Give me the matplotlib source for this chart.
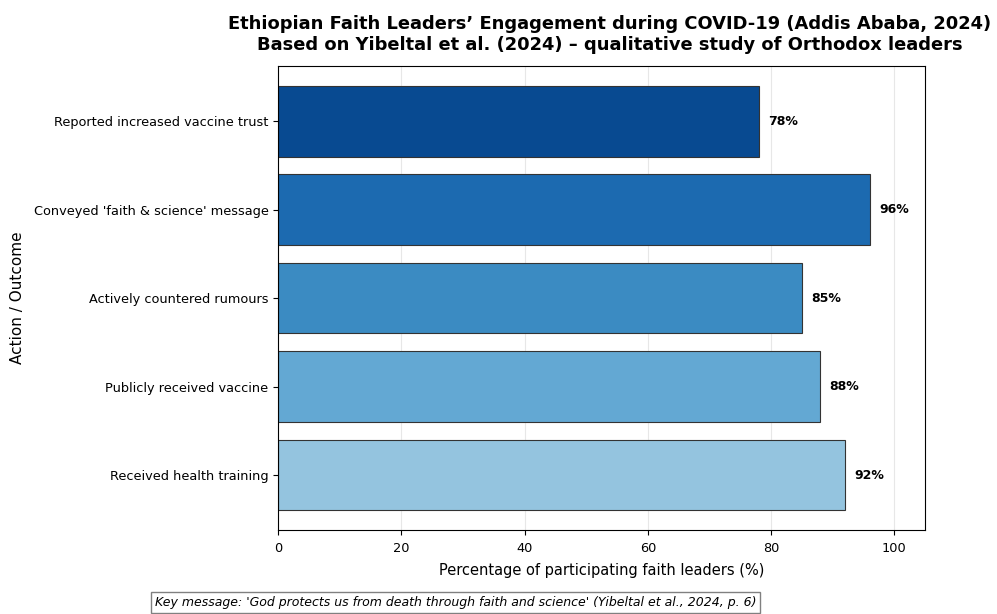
import numpy as np
import matplotlib.pyplot as plt

# Actions / outcomes reported by the faith leaders
actions = [
    "Received health training",
    "Publicly received vaccine",
    "Actively countered rumours",
    "Conveyed 'faith & science' message",
    "Reported increased vaccine trust",
]
percent = [92, 88, 85, 96, 78]

colors = plt.cm.Blues(np.linspace(0.4, 0.9, len(actions)))

fig, ax = plt.subplots(figsize=(9.97, 6.14), dpi=100)
fig.subplots_adjust(left=0.279, right=0.928, top=0.892, bottom=0.137)

y = np.arange(len(actions))
bars = ax.barh(y, percent, height=0.8, color=colors, edgecolor="#333333", linewidth=0.8)

for b, v in zip(bars, percent):
    ax.text(b.get_width() + 1.5, b.get_y() + b.get_height() / 2, f"{v}%",
            va="center", ha="left", fontsize=9, fontweight="bold")

ax.set_yticks(y)
ax.set_yticklabels(actions, fontsize=9.3)
ax.tick_params(axis="x", labelsize=9.3, pad=5)
ax.set_xlim(0, 105)
ax.set_ylim(-0.62, 4.62)
ax.grid(axis="x", alpha=0.3)
ax.set_axisbelow(True)

ax.set_xlabel("Percentage of participating faith leaders (%)", fontsize=10.5, labelpad=6)
ax.set_ylabel("Action / Outcome", fontsize=11, labelpad=6)
ax.set_title("Ethiopian Faith Leaders\u2019 Engagement during COVID-19 (Addis Ababa, 2024)\n"
             "Based on Yibeltal et al. (2024) \u2013 qualitative study of Orthodox leaders",
             fontsize=12.9, fontweight="bold", pad=12, x=0.512)

fig.text(0.155, 0.008,
         "Key message: 'God protects us from death through faith and science' (Yibeltal et al., 2024, p. 6)",
         fontsize=9, style="italic", ha="left", va="bottom",
         bbox=dict(facecolor="white", edgecolor="gray", boxstyle="square,pad=0.3"))

fig.savefig("out.png", dpi=100)
